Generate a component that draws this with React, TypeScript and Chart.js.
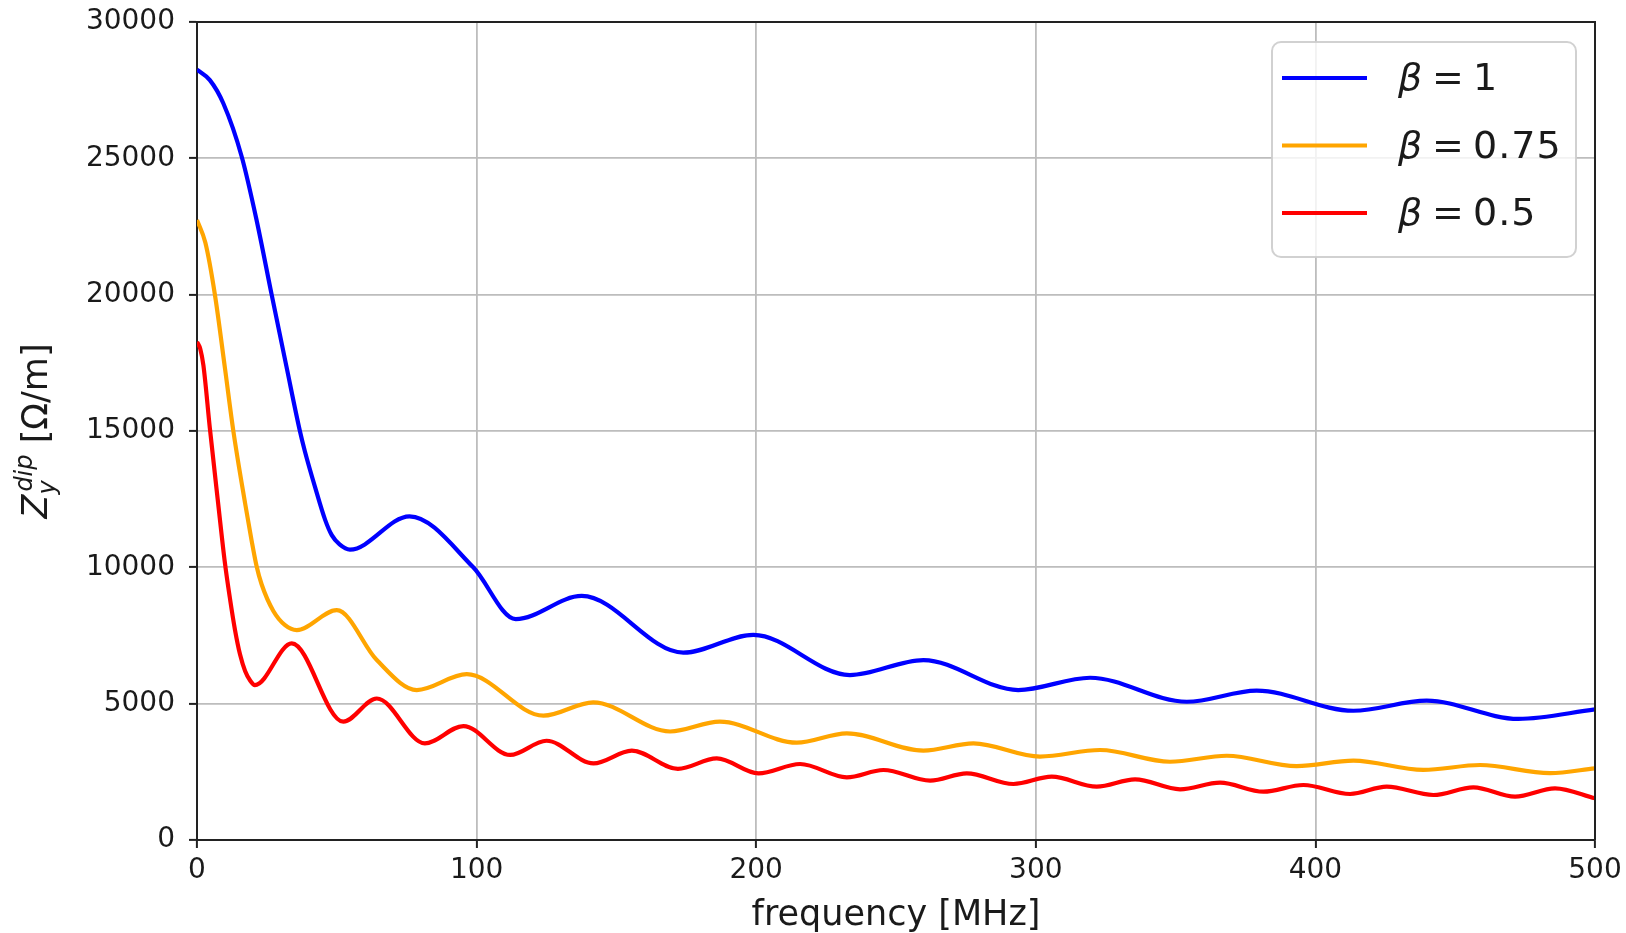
import React, { useEffect, useRef } from 'react';
import { Chart, registerables } from 'chart.js';

Chart.register(...registerables);

// Dipolar transverse impedance vs. frequency for three relativistic beta values
const betaValues = ['1', '0.75', '0.5'];
const seriesColors = ['#0000ff', '#ffa500', '#ff0000'];

const freqBeta1 = [0, 4.6, 9.4, 16, 21.3, 26.7, 32, 36.8, 38.6, 42.2, 45.8, 48.2, 51, 54.7, 76, 98.8, 114, 137.6, 173.9, 199, 233.5, 259.8, 293.7, 319.4, 354, 379, 413.6, 439.8, 472.6, 500];
const zBeta1 = [28250, 27870, 27020, 25060, 22740, 20000, 17360, 15000, 14250, 12950, 11750, 11180, 10840, 10650, 11870, 10000, 8100, 8950, 6870, 7520, 6050, 6600, 5500, 5950, 5070, 5480, 4740, 5110, 4440, 4790];

const freqBeta075 = [0, 3, 6.4, 10, 13, 17.2, 19.5, 21.3, 23.1, 27.3, 31.5, 35.7, 50, 64.3, 78.6, 96.5, 123.9, 141.7, 169.2, 187, 214.5, 232.4, 259.8, 277.7, 301.5, 323, 348, 368.3, 393.3, 413.6, 438.6, 458.9, 483.9, 500];
const zBeta075 = [22740, 21900, 20000, 17300, 15000, 12350, 11000, 10050, 9380, 8400, 7880, 7700, 8430, 6600, 5500, 6080, 4560, 5050, 3980, 4340, 3570, 3910, 3280, 3545, 3060, 3300, 2870, 3090, 2710, 2910, 2570, 2750, 2450, 2630];

const freqBeta05 = [0, 1.2, 2.3, 4.6, 7.4, 10, 11.8, 13.6, 15.4, 17.2, 19, 20.7, 33.9, 52.3, 64.3, 81.5, 95.3, 112, 125, 141.8, 155.5, 172, 185.9, 200.8, 215.7, 232.4, 245.5, 262.2, 275.3, 292, 305.7, 321.8, 335.5, 351.6, 365.9, 381.4, 395.7, 412.4, 425.5, 442.2, 456.5, 471.4, 485.7, 500];
const zBeta05 = [18270, 18000, 17400, 15100, 12500, 10150, 8850, 7700, 6800, 6200, 5850, 5680, 7210, 4340, 5190, 3545, 4180, 3120, 3640, 2810, 3275, 2610, 2995, 2446, 2787, 2298, 2567, 2176, 2446, 2054, 2322, 1956, 2225, 1858, 2102, 1772, 2017, 1687, 1956, 1650, 1931, 1589, 1895, 1528];

const xTicks = [0, 100, 200, 300, 400, 500];
const yTicks = [0, 5000, 10000, 15000, 20000, 25000, 30000];

const FONT = '"DejaVu Sans", "Liberation Sans", sans-serif';
const TEXT = '#1a1a1a';
const SPINE = '#222222';
const GRID = '#bdbdbd';

const toPoints = (xs: number[], ys: number[]) => xs.map((x, i) => ({ x, y: ys[i] }));

// Frame spines, legend box and the mathtext-style axis labels
const decorPlugin = {
  id: 'decor',
  afterDatasetsDraw(chart: any) {
    const { ctx, chartArea: a } = chart;
    ctx.save();
    ctx.strokeStyle = SPINE;
    ctx.lineWidth = 2;
    ctx.beginPath();
    ctx.moveTo(a.left, a.top);
    ctx.lineTo(a.right, a.top);
    ctx.lineTo(a.right, a.bottom);
    ctx.stroke();
    ctx.restore();
  },
  afterDraw(chart: any) {
    const { ctx, chartArea: a } = chart;

    // legend
    const bx = a.right - 323, by = a.top + 20, bw = 304, bh = 215;
    ctx.save();
    ctx.beginPath();
    ctx.roundRect(bx, by, bw, bh, 9);
    ctx.fillStyle = 'rgba(255,255,255,0.8)';
    ctx.fill();
    ctx.strokeStyle = 'rgba(204,204,204,0.9)';
    ctx.lineWidth = 2;
    ctx.stroke();
    chart.data.datasets.forEach((ds: any, i: number) => {
      const cy = by + 36 + i * 67.5;
      ctx.strokeStyle = ds.borderColor;
      ctx.lineWidth = 4.2;
      ctx.beginPath();
      ctx.moveTo(bx + 10, cy);
      ctx.lineTo(bx + 95, cy);
      ctx.stroke();
      const base = cy + 12;
      ctx.fillStyle = TEXT;
      ctx.textBaseline = 'alphabetic';
      ctx.textAlign = 'left';
      ctx.font = `italic 38px ${FONT}`;
      ctx.fillText('β', bx + 126, base);
      ctx.font = `38px ${FONT}`;
      ctx.fillText('=', bx + 160, base);
      (ctx as any).letterSpacing = '1px';
      ctx.fillText(betaValues[i], bx + 201, base);
      (ctx as any).letterSpacing = '0px';
    });
    ctx.restore();

    // x-axis title
    ctx.save();
    ctx.fillStyle = TEXT;
    ctx.font = `35px ${FONT}`;
    ctx.textAlign = 'center';
    ctx.textBaseline = 'alphabetic';
    ctx.fillText('frequency [MHz]', (a.left + a.right) / 2, 925);
    ctx.restore();

    // y-axis title: Z_y^{dip} [Ω/m]
    ctx.save();
    ctx.translate(47, (a.top + a.bottom) / 2);
    ctx.rotate(-Math.PI / 2);
    ctx.fillStyle = TEXT;
    ctx.textAlign = 'left';
    ctx.textBaseline = 'alphabetic';
    const main = `italic 35px ${FONT}`;
    const script = `italic 24px ${FONT}`;
    const rest = ` [Ω/m]`;
    ctx.font = main;
    const wZ = ctx.measureText('Z').width;
    ctx.font = script;
    const wSub = ctx.measureText('y').width;
    const wSup = ctx.measureText('dip').width + 3;
    ctx.font = `35px ${FONT}`;
    const wRest = ctx.measureText(rest).width;
    const total = wZ + Math.max(wSub, wSup) + wRest;
    let x = -total / 2;
    ctx.font = main;
    ctx.fillText('Z', x, 0);
    x += wZ;
    ctx.font = script;
    ctx.fillText('y', x, 8);
    ctx.fillText('dip', x + 3, -15);
    x += Math.max(wSub, wSup);
    ctx.font = `35px ${FONT}`;
    ctx.fillText(rest, x, 0);
    ctx.restore();
  },
};

export default function App() {
  const canvasRef = useRef<HTMLCanvasElement>(null);

  useEffect(() => {
    const canvas = canvasRef.current;
    if (!canvas) return;
    const datasets = [
      { xs: freqBeta1, ys: zBeta1 },
      { xs: freqBeta075, ys: zBeta075 },
      { xs: freqBeta05, ys: zBeta05 },
    ].map((s, i) => ({
      label: `β = ${betaValues[i]}`,
      data: toPoints(s.xs, s.ys),
      borderColor: seriesColors[i],
      backgroundColor: seriesColors[i],
      borderWidth: 4.2,
      pointRadius: 0,
      cubicInterpolationMode: 'monotone' as const,
      fill: false,
    }));

    const chart = new Chart(canvas, {
      type: 'line',
      data: { datasets },
      plugins: [decorPlugin],
      options: {
        responsive: false,
        animation: false,
        layout: { padding: { top: 22, right: 31, left: 0, bottom: 0 } },
        plugins: {
          legend: { display: false },
          tooltip: { enabled: false },
        },
        scales: {
          x: {
            type: 'linear',
            min: 0,
            max: 500,
            afterBuildTicks: (s: any) => {
              s.ticks = xTicks.map((v) => ({ value: v }));
            },
            afterFit: (s: any) => {
              s.height = 93;
              s.paddingLeft = 0;
              s.paddingRight = 0;
            },
            ticks: {
              font: { family: FONT, size: 28 },
              color: TEXT,
              padding: 6,
              maxRotation: 0,
            },
            grid: {
              color: GRID,
              lineWidth: 1.8,
              tickLength: 8,
              tickColor: SPINE,
              tickWidth: 2,
            },
            border: { color: SPINE, width: 2 },
          },
          y: {
            type: 'linear',
            min: 0,
            max: 30000,
            afterBuildTicks: (s: any) => {
              s.ticks = yTicks.map((v) => ({ value: v }));
            },
            afterFit: (s: any) => {
              s.width = 197;
              s.paddingTop = 0;
              s.paddingBottom = 0;
            },
            ticks: {
              font: { family: FONT, size: 28 },
              color: TEXT,
              padding: 14,
              callback: (v: any) => String(v),
            },
            grid: {
              color: GRID,
              lineWidth: 1.8,
              tickLength: 8,
              tickColor: SPINE,
              tickWidth: 2,
            },
            border: { color: SPINE, width: 2 },
          },
        },
      },
    });
    return () => chart.destroy();
  }, []);

  return (
    <div style={{ position: 'fixed', left: 0, top: 0, width: 1626, height: 933, background: '#ffffff' }}>
      <canvas ref={canvasRef} width={1626} height={933} style={{ display: 'block' }} />
    </div>
  );
}
